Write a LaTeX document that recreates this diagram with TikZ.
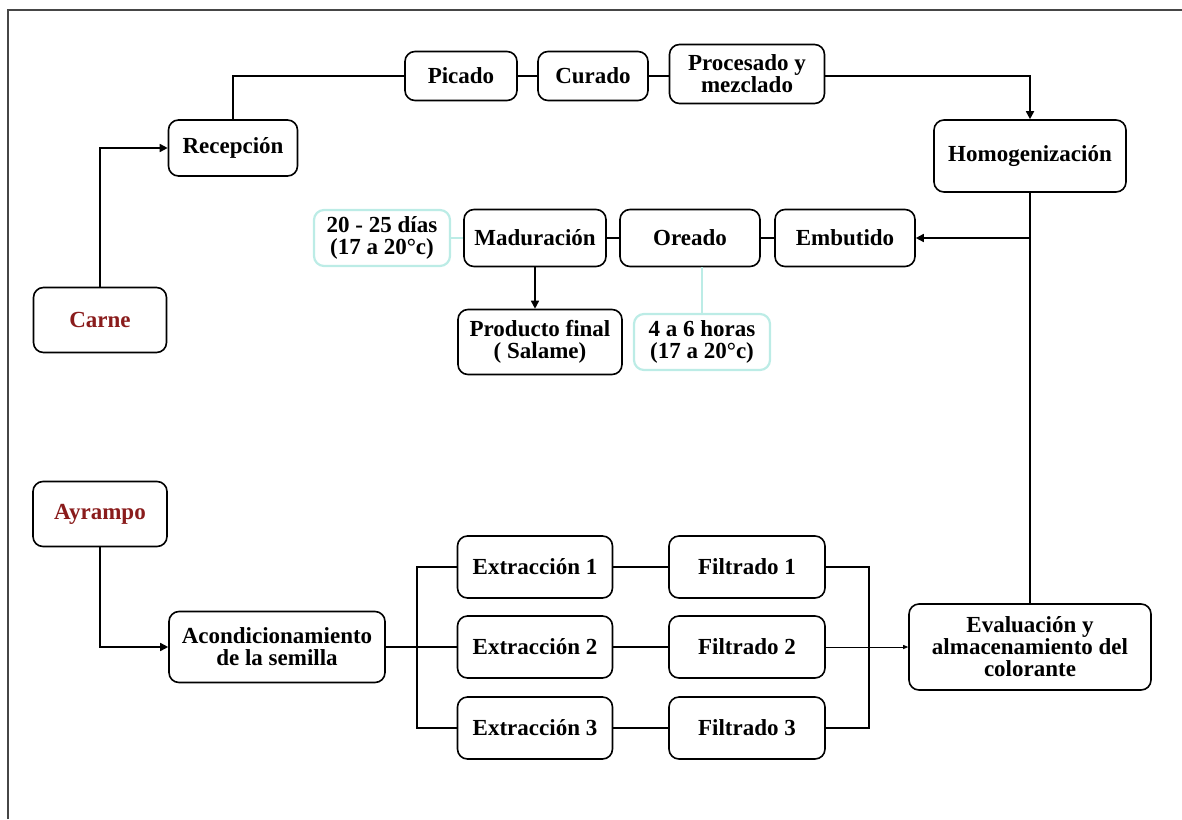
\documentclass[tikz,border=0pt]{standalone}
\usepackage{fontspec}
\setmainfont{Liberation Serif}
\usetikzlibrary{arrows.meta}
\definecolor{tealbox}{RGB}{188,236,230}
\definecolor{wine}{RGB}{138,28,28}
\definecolor{framegray}{RGB}{70,70,70}
\tikzset{
  box/.style={draw=black, line width=1.6pt, rounded corners=10pt, fill=white,
    align=center, inner sep=0pt, font=\fontsize{23}{22}\selectfont\bfseries},
  cbox/.style={box, draw=tealbox, line width=2.2pt},
  conn/.style={line width=1.6pt, draw=black},
  tconn/.style={line width=1.6pt, draw=tealbox},
  arr/.style={conn, -{Triangle[length=8pt,width=8pt]}},
  thinarr/.style={line width=0.8pt, draw=black, -{Triangle[length=5pt,width=4pt]}},
}
\begin{document}
\begin{tikzpicture}[x=1pt,y=-1pt]
\useasboundingbox (0,0) rectangle (1182,819);
\draw[framegray, line width=1.5pt] (8,819) -- (8,10) -- (1182,10);

% meat line
\node[box, minimum width=133pt, minimum height=65pt, text=wine] (carne) at (100,320) {Carne};
\node[box, minimum width=129pt, minimum height=56pt] (rec) at (233,148) {Recepción};
\node[box, minimum width=112pt, minimum height=49pt] (pic) at (461,76) {Picado};
\node[box, minimum width=110pt, minimum height=49pt] (cur) at (593,76) {Curado};
\node[box, minimum width=155pt, minimum height=59pt] (proc) at (747,74) {Procesado y\\mezclado};
\node[box, minimum width=192pt, minimum height=72pt] (hom) at (1030,156) {Homogenización};
\node[box, minimum width=140pt, minimum height=57pt] (emb) at (845,238) {Embutido};
\node[box, minimum width=140pt, minimum height=57pt] (ore) at (690,238) {Oreado};
\node[box, minimum width=142pt, minimum height=57pt] (mad) at (535,238) {Maduración};
\node[cbox, minimum width=136pt, minimum height=56pt] (dias) at (382,238) {20 - 25 días\\(17 a 20°c)};
\node[box, minimum width=164pt, minimum height=65pt] (prod) at (540,342) {Producto final\\( Salame)};
\node[cbox, minimum width=136pt, minimum height=56pt] (horas) at (702,342) {4 a 6 horas\\(17 a 20°c)};

% ayrampo line
\node[box, minimum width=134pt, minimum height=65pt, text=wine] (ayr) at (100,514) {Ayrampo};
\node[box, minimum width=216pt, minimum height=71pt] (aco) at (277,647) {Acondicionamiento\\de la semilla};
\node[box, minimum width=155pt, minimum height=62pt] (ext1) at (535,567) {Extracción 1};
\node[box, minimum width=155pt, minimum height=62pt] (ext2) at (535,647) {Extracción 2};
\node[box, minimum width=155pt, minimum height=62pt] (ext3) at (535,728) {Extracción 3};
\node[box, minimum width=156pt, minimum height=62pt] (fil1) at (747,567) {Filtrado 1};
\node[box, minimum width=156pt, minimum height=62pt] (fil2) at (747,647) {Filtrado 2};
\node[box, minimum width=156pt, minimum height=62pt] (fil3) at (747,728) {Filtrado 3};
\node[box, minimum width=242pt, minimum height=86pt] (eva) at (1030,647) {Evaluación y\\almacenamiento del\\colorante};

% connectors (meat)
\draw[arr] (carne.north) |- (rec.west);
\draw[conn] (rec.north) |- (pic.west);
\draw[conn] (pic.east) -- (cur.west);
\draw[conn] (cur.east) -- (cur.east -| proc.west);
\draw[arr] (proc.east |- cur.east) -| (hom.north);
\draw[conn] (hom.south) -- (eva.north);
\coordinate (junc) at (hom.south |- emb.east);
\draw[arr] (junc) -- (emb.east);
\draw[conn] (emb.west) -- (ore.east);
\draw[conn] (ore.west) -- (mad.east);
\draw[tconn] (mad.west) -- (dias.east);
\draw[arr] (mad.south) -- (mad.south |- prod.north);
\draw[tconn] (horas.north) -- (horas.north |- ore.south);

% connectors (ayrampo)
\draw[arr] (ayr.south) |- (aco.west);
\draw[conn] (aco.east) -- (ext2.west);
\draw[conn] (ext1.west) -- ++(-40,0) |- (ext3.west);
\draw[conn] (ext1.east) -- (fil1.west);
\draw[conn] (ext2.east) -- (fil2.west);
\draw[conn] (ext3.east) -- (fil3.west);
\draw[conn] (fil1.east) -- ++(43,0) |- (fil3.east);
\draw[thinarr] (fil2.east) -- (eva.west);
\end{tikzpicture}
\end{document}
